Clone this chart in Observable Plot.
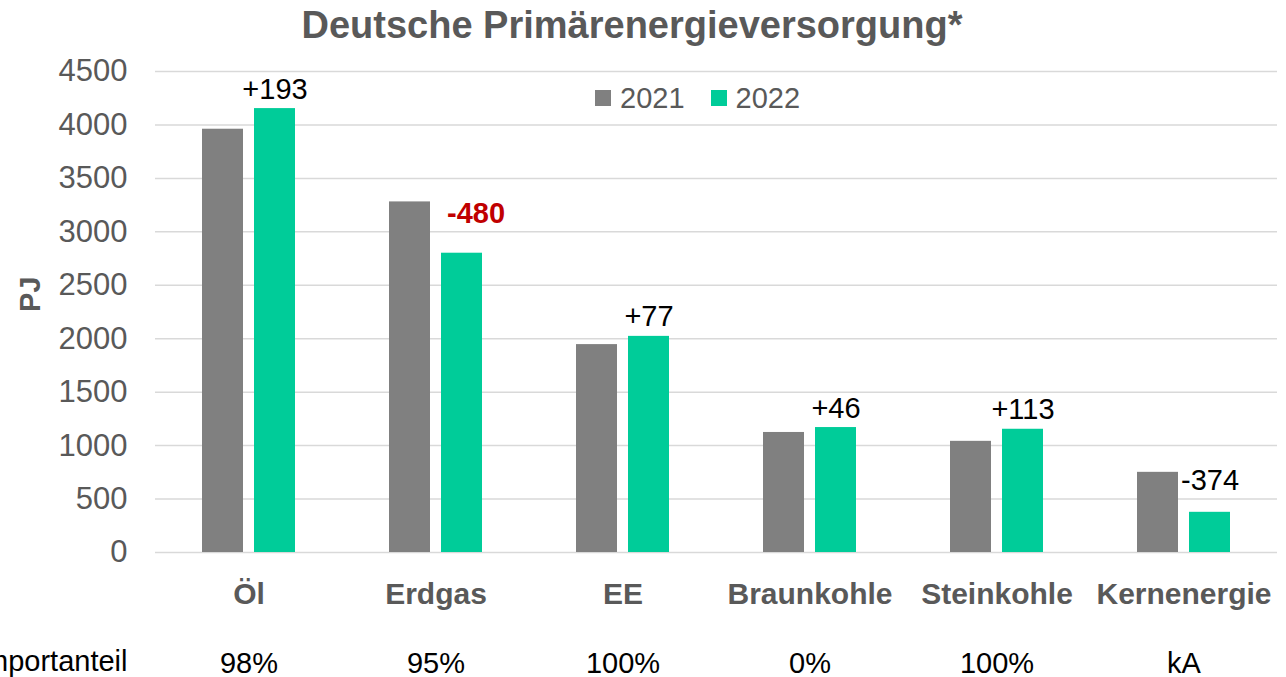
<!DOCTYPE html>
<html><head><meta charset="utf-8">
<script src="https://cdn.jsdelivr.net/npm/d3@7"></script>
<script src="https://cdn.jsdelivr.net/npm/@observablehq/plot@0.6"></script>
<style>
body{margin:0;background:#fff;font-family:"Liberation Sans",Arial,sans-serif;}
#wrap{position:relative;width:1286px;height:677px;overflow:hidden;}
#title{height:50px;line-height:50px;font-size:38px;font-weight:bold;color:#595959;text-align:center;padding-right:22px;white-space:nowrap;}
#chart svg{display:block;}
#legend{position:absolute;left:595px;top:78px;display:flex;align-items:center;font-size:29px;color:#595959;line-height:40px;}
#legend .it{display:flex;align-items:center;margin-right:26px;}
#legend .sw{display:inline-block;width:16px;height:16px;margin-right:9px;}
</style></head><body>
<div id="wrap">
  <div id="title">Deutsche Primärenergieversorgung*</div>
  <div id="chart"></div>
  <div id="legend"></div>
</div>
<script>
const categories = ["Öl", "Erdgas", "EE", "Braunkohle", "Steinkohle", "Kernenergie"];
const years = ["2021", "2022"];
const values2021 = [3960, 3280, 1945, 1123, 1040, 750];
const values2022 = [4153, 2800, 2022, 1169, 1153, 376];
const changeLabels = ["+193", "-480", "+77", "+46", "+113", "-374"];
const importShares = ["98%", "95%", "100%", "0%", "100%", "kA"];
const yTicks = [0, 500, 1000, 1500, 2000, 2500, 3000, 3500, 4000, 4500];
const yLabel = "PJ";
const rowLabel = "Importanteil";

const colors = ["#808080", "#00CC99"];
const textGrey = "#595959";
const font = "Liberation Sans, Arial, sans-serif";

const rows = categories.flatMap((c, i) => [
  {cat: c, year: years[0], value: values2021[i]},
  {cat: c, year: years[1], value: values2022[i]}
]);
const labels = categories.map((c, i) => ({cat: c, year: years[1], value: values2022[i], text: changeLabels[i], n: +changeLabels[i]}));
const maxAbs = d3.max(labels, d => Math.abs(d.n));
const isHi = d => Math.abs(d.n) === maxAbs;
const posNormal = labels.filter(d => d.n >= 0 && !isHi(d));
const negNormal = labels.filter(d => d.n < 0 && !isHi(d));
const highlight = labels.filter(isHi);

const chart = Plot.plot({
  width: 1286,
  height: 627,
  marginTop: 21,
  marginBottom: 125,
  marginLeft: 153,
  marginRight: 8,
  style: {fontFamily: font, fontSize: "29px", background: "transparent"},
  fx: {domain: categories, padding: 0, label: null},
  x: {domain: years, paddingInner: 0.2075, paddingOuter: 0.8726, axis: null},
  y: {domain: [0, 4500], label: null},
  color: {domain: years, range: colors},
  marks: [
    Plot.gridY(yTicks, {stroke: "#D9D9D9", strokeOpacity: 1, strokeWidth: 1.5}),
    Plot.barY(rows, {fx: "cat", x: "year", y: "value", fill: "year"}),
    Plot.text(posNormal, {fx: "cat", x: "year", y: "value", text: "text", dy: -10, lineAnchor: "bottom", fontSize: 29, fill: "#000"}),
    Plot.text(negNormal, {fx: "cat", x: "year", y: "value", text: "text", dy: -22, lineAnchor: "bottom", fontSize: 29, fill: "#000"}),
    Plot.text(highlight, {fx: "cat", x: "year", y: "value", text: "text", dy: -30, dx: 14, lineAnchor: "bottom", fontSize: 29, fontWeight: "bold", fill: "#C00000"}),
    Plot.axisY(yTicks, {tickSize: 0, tickPadding: 28, fontSize: 31, fill: textGrey, label: null, tickFormat: d => String(d)}),
    Plot.axisFx({anchor: "bottom", tickSize: 0, tickPadding: 30, fontSize: 30, fontWeight: "bold", fill: textGrey, label: null}),
    Plot.text(categories, {fx: d => d, text: (d, i) => importShares[i], frameAnchor: "bottom", lineAnchor: "bottom", dy: 120, fontSize: 29, fill: "#000"}),
    Plot.text([categories[0]], {fx: d => d, text: () => rowLabel, frameAnchor: "bottom-left", textAnchor: "end", lineAnchor: "bottom", dx: -28, dy: 118, fontSize: 29, fill: "#000"}),
    Plot.text([categories[0]], {fx: d => d, text: () => yLabel, frameAnchor: "left", rotate: -90, dx: -125, fontSize: 29, fontWeight: "bold", fill: textGrey})
  ]
});
document.getElementById("chart").appendChild(chart);

const legend = document.getElementById("legend");
years.forEach((y, i) => {
  const it = document.createElement("span");
  it.className = "it";
  const sw = document.createElement("span");
  sw.className = "sw";
  sw.style.background = colors[i];
  it.appendChild(sw);
  it.appendChild(document.createTextNode(y));
  legend.appendChild(it);
});
</script>
</body></html>
